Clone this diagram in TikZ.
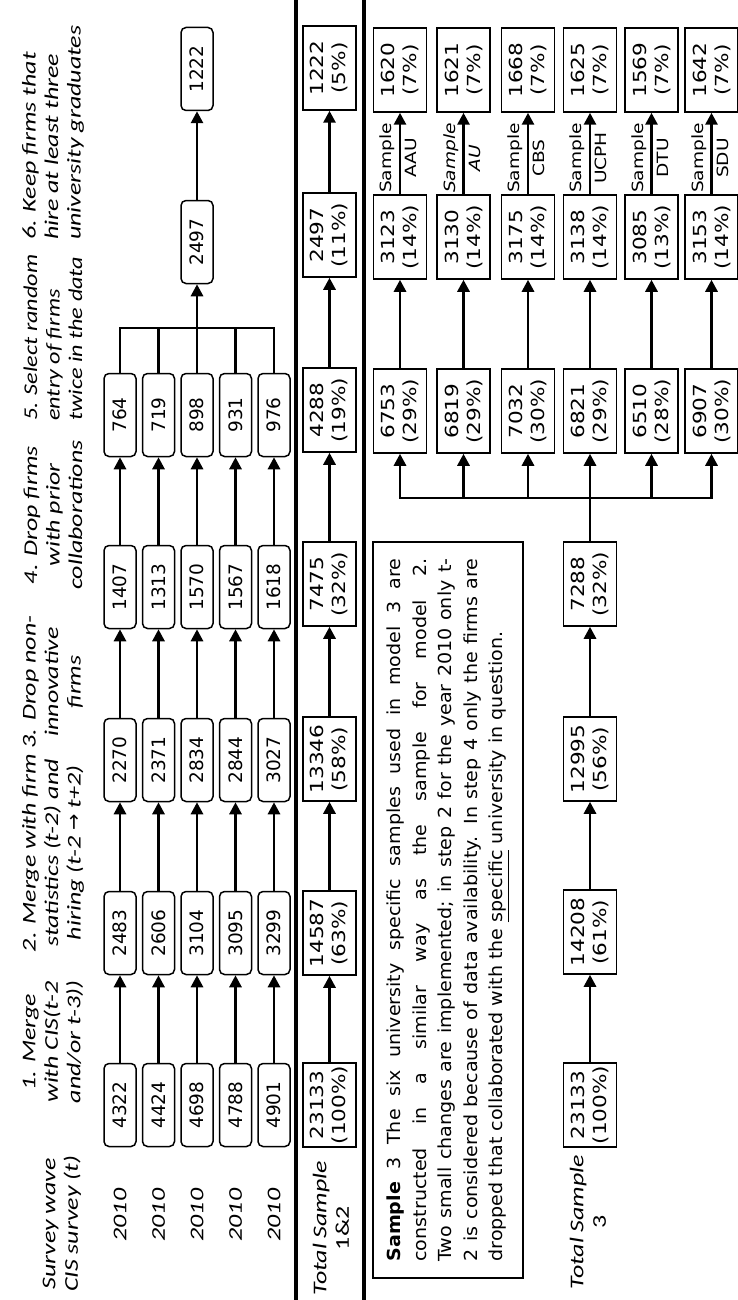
\documentclass[tikz,border=0pt]{standalone}
\usepackage{fontspec}
\usetikzlibrary{arrows.meta,calc}
\newfontfamily\hdrfont[FakeStretch=1.33]{Carlito}
\newfontfamily\hdrnarrow[FakeStretch=1.24]{Carlito}
\newfontfamily\numA{DejaVu Sans}
\newfontfamily\numB[FakeStretch=1.2]{DejaVu Sans}
\newfontfamily\parafont[FakeStretch=1.06]{DejaVu Sans}
\newfontfamily\labfont[FakeStretch=1.2]{DejaVu Sans}
\tikzset{
 rbox/.style={draw, line width=1.5pt, rounded corners=5pt, rotate=90, minimum width=83pt, minimum height=32pt, inner sep=0pt, font=\numA\fontsize{18.5}{20}\selectfont},
 tbox/.style={draw, line width=1.5pt, rotate=90, minimum width=84pt, minimum height=53pt, inner sep=0pt, align=center, font=\numB\fontsize{18}{22}\selectfont},
 hdr/.style={rotate=90, inner sep=0pt, font=\hdrfont\itshape\fontsize{19.5}{22.5}\selectfont},
 lab/.style={rotate=90, inner sep=0pt, align=center, font=\labfont\fontsize{15.5}{25}\selectfont},
 conn/.style={line width=2.8pt},
 arr/.style={line width=2.8pt, -{Triangle[length=12pt,width=12pt]}},
 sep/.style={line width=4pt},
}
\begin{document}
\begin{tikzpicture}[x=1pt,y=-1pt]
\useasboundingbox (0,0) rectangle (738,1300);
% separators
\draw[sep] (296,0) -- (296,1300);
\draw[sep] (364,0) -- (364,1300);
% headers
\node[hdr, align=center] (h0) at (62,1224) {Survey wave\\CIS survey (t)};
\node[hdr, align=center] (h1) at (53,1042) {1. Merge\\with CIS(t-2\\and/or t-3))};
\node[hdr, align=center] (h2) at (53,853) {2. Merge with firm\\statistics (t-2) and\\hiring (t-2 {\upshape\numA →} t+2)};
\node[hdr, align=center] (h3) at (53,682) {3. Drop non-\\innovative\\firms};
\node[hdr, align=center] (h4) at (53,515) {4. Drop firms\\with prior\\collaborations};
\node[hdr, align=left, anchor=west, font=\hdrnarrow\itshape\fontsize{19.5}{22.5}\selectfont] (h5) at (53,421) {5. Select random\\entry of firms\\twice in the data};
\node[hdr, align=left, anchor=west] (h6) at (53,240) {6. Keep firms that\\hire at least three\\university graduates};
% upper rows
\coordinate (busU) at (197,328);
\foreach \i/\x/\a/\b/\c/\d/\e in {1/120/4322/2483/2270/1407/764, 2/158.5/4424/2606/2371/1313/719, 3/197/4698/3104/2834/1570/898, 4/235.5/4788/3095/2844/1567/931, 5/274/4901/3299/3027/1618/976}{
 \node[hdr] (y\i) at (\x,1215) {2010};
 \node[rbox] (a\i) at (\x,1105) {\a};
 \node[rbox] (b\i) at (\x,933) {\b};
 \node[rbox] (c\i) at (\x,760) {\c};
 \node[rbox] (d\i) at (\x,587) {\d};
 \node[rbox] (e\i) at (\x,415) {\e};
 \draw[arr] (a\i.east) -- (b\i.west);
 \draw[arr] (b\i.east) -- (c\i.west);
 \draw[arr] (c\i.east) -- (d\i.west);
 \draw[arr] (d\i.east) -- (e\i.west);
}
\draw[conn] (e1.east) |- (e5.east |- busU) -- (e5.east);
\draw[conn] (e2.east) -- (e2.east |- busU);
\draw[conn] (e3.east) -- (e3.east |- busU);
\draw[conn] (e4.east) -- (e4.east |- busU);
\node[rbox] (f) at (197,242) {2497};
\node[rbox] (g) at (197,69) {1222};
\draw[arr] (busU) -- (f.west);
\draw[arr] (f.east) -- (g.west);
% total sample 1&2
\node[hdr, align=center] (ts12) at (331,1228) {Total Sample\\{\upshape 1\&2}};
\node[tbox] (t1) at (329.5,1105) {23133\\(100\%)};
\node[tbox] (t2) at (329.5,933) {14587\\(63\%)};
\node[tbox] (t3) at (329.5,759) {13346\\(58\%)};
\node[tbox] (t4) at (329.5,584) {7475\\(32\%)};
\node[tbox] (t5) at (329.5,410) {4288\\(19\%)};
\node[tbox] (t6) at (329.5,235) {2497\\(11\%)};
\node[tbox] (t7) at (329.5,68) {1222\\(5\%)};
\draw[arr] (t1.east) -- (t2.west);
\draw[arr] (t2.east) -- (t3.west);
\draw[arr] (t3.east) -- (t4.west);
\draw[arr] (t4.east) -- (t5.west);
\draw[arr] (t5.east) -- (t6.west);
\draw[arr] (t6.east) -- (t7.west);
% note box
\node[draw, line width=1.5pt, rotate=90, text width=703pt, align=justify, minimum width=736pt, minimum height=150pt, inner xsep=16.5pt, inner ysep=0pt, font=\parafont\fontsize{18}{25.5}\selectfont] (note) at (448,910) {\tolerance=9999\relax\textbf{Sample} 3 The six university specific samples used in model 3 are\linebreak constructed in a similar way as the sample for model 2.\linebreak Two small changes are implemented; in step 2 for the year 2010 only t-\linebreak 2 is considered because of data availability. In step 4 only the firms are\linebreak dropped that collaborated with the \underline{specific} university in question.};
% total sample 3
\node[hdr, align=center] (ts3) at (588,1222) {Total Sample\\{\upshape 3}};
\node[tbox] (s1) at (590,1105) {23133\\(100\%)};
\node[tbox] (s2) at (590,932) {14208\\(61\%)};
\node[tbox] (s3) at (590,759) {12995\\(56\%)};
\node[tbox] (s4) at (590,584) {7288\\(32\%)};
\draw[arr] (s1.east) -- (s2.west);
\draw[arr] (s2.east) -- (s3.west);
\draw[arr] (s3.east) -- (s4.west);
\coordinate (busL) at (590,498);
\draw[conn] (s4.east) -- (busL);
\foreach \k/\x/\na/\pa/\nb/\pb/\nc/\pc/\nm in {
 1/400/6753/29/3123/14/1620/7/{Sample\\AAU},
 2/463.5/6819/29/3130/14/1621/7/{\itshape Sample\\\itshape AU},
 3/528/7032/30/3175/14/1668/7/{Sample\\CBS},
 4/590/6821/29/3138/14/1625/7/{Sample\\UCPH},
 5/651.5/6510/28/3085/13/1569/7/{Sample\\DTU},
 6/711.5/6907/30/3153/14/1642/7/{Sample\\SDU}}{
 \node[tbox] (A\k) at (\x,411) {\na\\(\pa\%)};
 \node[tbox] (B\k) at (\x,237) {\nb\\(\pb\%)};
 \node[tbox] (C\k) at (\x,70) {\nc\\(\pc\%)};
 \draw[arr] (busL -| A\k) -- (A\k.west);
 \draw[arr] (A\k.east) -- (B\k.west);
 \draw[arr] (B\k.east) -- (C\k.west);
 \node[lab] (L\k) at (\x-1.5,158) {\nm};
}
\draw[conn, line cap=rect] (busL -| A1) -- (busL -| A6);
\end{tikzpicture}
\end{document}
